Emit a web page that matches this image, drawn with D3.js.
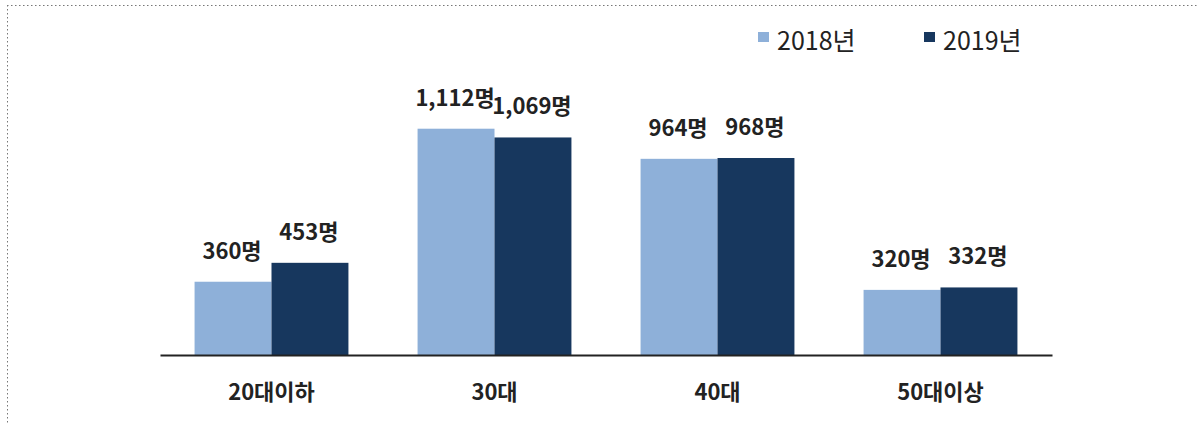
<!DOCTYPE html>
<html><head><meta charset="utf-8">
<script src="https://cdn.jsdelivr.net/npm/d3@7/dist/d3.min.js"></script>
<style>body{margin:0;background:#fff}svg{display:block}</style>
</head><body>
<script>
const categories = ["20대이하", "30대", "40대", "50대이상"];
const seriesNames = ["2018년", "2019년"];
const values2018 = [360, 1112, 964, 320];
const values2019 = [453, 1069, 968, 332];
const valueLabels2018 = ["360명", "1,112명", "964명", "320명"];
const valueLabels2019 = ["453명", "1,069명", "968명", "332명"];
const colors = ["#8eb0d9", "#17375e"];

const W = 1198, H = 425;
const svg = d3.select("body").append("svg").attr("width", W).attr("height", H);
const font = "'Noto Sans CJK KR', 'Noto Sans', sans-serif";

// dotted frame (top and left)
svg.append("line").attr("x1", 7).attr("x2", W).attr("y1", 5.5).attr("y2", 5.5)
  .attr("stroke", "#777").attr("stroke-dasharray", "1.5,2.5");
svg.append("line").attr("x1", 7.5).attr("x2", 7.5).attr("y1", 5).attr("y2", H)
  .attr("stroke", "#777").attr("stroke-dasharray", "1.5,2.5");

const x0 = d3.scaleBand().domain(categories).range([160, 1052]).paddingInner(0.31).paddingOuter(0.155);
const x1 = d3.scaleBand().domain(seriesNames).range([0, x0.bandwidth()]);
const y = d3.scaleLinear().domain([0, 1200]).range([355, 355 - 0.2035 * 1200]);

const data = categories.map((c, i) => ({cat: c, vals: [
  {s: seriesNames[0], v: values2018[i], lab: valueLabels2018[i]},
  {s: seriesNames[1], v: values2019[i], lab: valueLabels2019[i]}]}));

const g = svg.selectAll("g.grp").data(data).enter().append("g")
  .attr("transform", d => `translate(${x0(d.cat)},0)`);
g.selectAll("rect").data(d => d.vals).enter().append("rect")
  .attr("x", d => x1(d.s)).attr("width", x1.bandwidth())
  .attr("y", d => y(d.v)).attr("height", d => y(0) - y(d.v))
  .attr("fill", (d, i) => colors[i]);
g.selectAll("text.val").data(d => d.vals).enter().append("text")
  .attr("x", d => x1(d.s) + x1.bandwidth() / 2 - 1)
  .attr("y", d => y(d.v) - 23)
  .attr("text-anchor", "middle")
  .attr("font-family", font).attr("font-weight", "bold").attr("font-size", 22)
  .attr("fill", "#222").text(d => d.lab);

// axis
const axis = d3.axisBottom(x0).tickSize(0).tickPadding(29);
const ax = svg.append("g").attr("transform", `translate(0,${y(0)})`).call(axis);
ax.select(".domain").attr("stroke", "#222").attr("stroke-width", 2);
ax.selectAll("text").attr("font-family", font).attr("font-weight", "bold")
  .attr("font-size", 22).attr("fill", "#222");

// legend
const lx = [758, 924];
seriesNames.forEach((s, i) => {
  svg.append("rect").attr("x", lx[i]).attr("y", 32).attr("width", 11).attr("height", 10).attr("fill", colors[i]);
  svg.append("text").attr("x", lx[i] + 19).attr("y", 50).attr("font-family", font)
    .attr("font-size", 25).attr("fill", "#222").text(s);
});
</script>
</body></html>
